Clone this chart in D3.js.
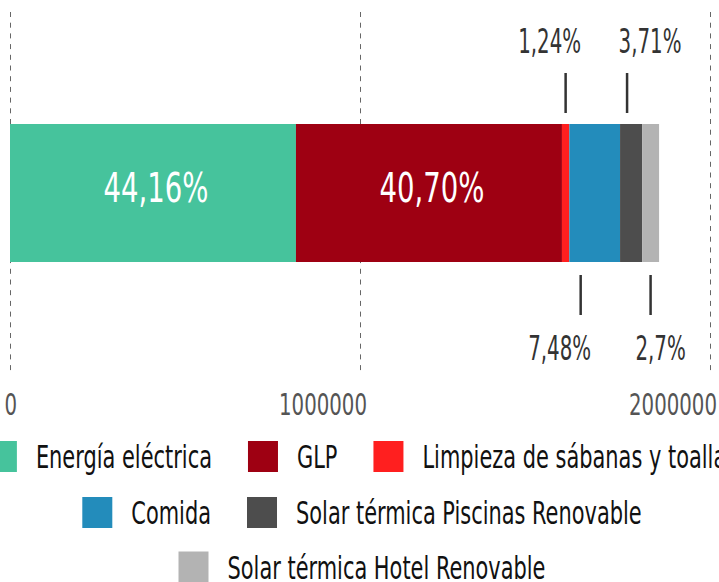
<!DOCTYPE html>
<html>
<head>
<meta charset="utf-8">
<script src="https://cdn.jsdelivr.net/npm/d3@7"></script>
<style>
  body { margin: 0; background: #fff; }
  text { font-family: "Liberation Sans Narrow", "DejaVu Sans Condensed", "DejaVu Sans", sans-serif; }
</style>
</head>
<body>
<div id="chart"></div>
<script>
// data
const categories = ["Energía eléctrica", "GLP", "Limpieza de sábanas y toallas", "Comida", "Solar térmica Piscinas Renovable", "Solar térmica Hotel Renovable"];
const values = [817000, 760000, 21000, 145000, 63000, 48500];
const percentLabels = ["44,16%", "40,70%", "1,24%", "7,48%", "3,71%", "2,7%"];
const colors = ["#46c39c", "#9e0012", "#ff1f1f", "#238cbb", "#4d4d4d", "#b3b3b3"];
const xTicks = [0, 1000000, 2000000];
// where each label sits: inside the bar, above or below it
const labelPlace = ["in", "in", "top", "bottom", "top", "bottom"];
const legendRows = [[0, 1, 2], [3, 4], [5]];

const W = 719, H = 582;

const svg = d3.select("#chart").append("svg")
  .attr("width", W).attr("height", H);

// the original font is much narrower than what we have, so squeeze text
// horizontally until a sample string is as wide as in the picture
function squeeze(sample, size, target) {
  const t = svg.append("text").style("font-size", size + "px").text(sample);
  const w = t.node().getComputedTextLength();
  t.remove();
  return target / w;
}
const sAxis = squeeze("2000000", 31, 88);
const sIn = squeeze("44,16%", 40, 105);
const sOut = squeeze("1,24%", 33, 63);
const sLeg = squeeze("Solar térmica Hotel Renovable", 32, 318);

const x = d3.scaleLinear().domain([0, 2000000]).range([10, 710]);
const barTop = 124, barBottom = 262;

// gridlines
svg.append("g").selectAll("line")
  .data(xTicks)
  .enter().append("line")
  .attr("x1", d => Math.round(x(d)) + 0.5)
  .attr("x2", d => Math.round(x(d)) + 0.5)
  .attr("y1", 12).attr("y2", 375)
  .attr("stroke", "#666")
  .attr("stroke-width", 1)
  .attr("stroke-dasharray", "5,5.7");

// axis labels
svg.append("g").selectAll("text")
  .data(xTicks)
  .enter().append("text")
  .attr("transform", d => `translate(${x(d) + 7},415) scale(${sAxis},1)`)
  .attr("text-anchor", "end")
  .style("font-size", "31px")
  .style("fill", "#555")
  .text(d => d);

// stacked segments
let acc = 0;
const segs = values.map((v, i) => {
  const s = { i: i, x0: acc, x1: acc + v };
  acc += v;
  return s;
});

svg.append("g").selectAll("rect")
  .data(segs)
  .enter().append("rect")
  .attr("x", d => x(d.x0))
  .attr("width", d => x(d.x1) - x(d.x0))
  .attr("y", barTop)
  .attr("height", barBottom - barTop)
  .attr("fill", d => colors[d.i]);

// labels inside the bar
svg.append("g").selectAll("text")
  .data(segs.filter(d => labelPlace[d.i] === "in"))
  .enter().append("text")
  .attr("transform", d => `translate(${x((d.x0 + d.x1) / 2) + 3},202) scale(${sIn},1)`)
  .attr("text-anchor", "middle")
  .style("font-size", "40px")
  .style("fill", "#fff")
  .text(d => percentLabels[d.i]);

// leader lines for the small ones
const lineDx = [0, 0, 0, -14, -4, 0];
const textDx = [0, 0, -16, -21, 23, 10];
const outside = segs.filter(d => labelPlace[d.i] !== "in");

outside.forEach(d => {
  const lx = x((d.x0 + d.x1) / 2) + lineDx[d.i];
  const top = labelPlace[d.i] === "top";
  svg.append("line")
    .attr("x1", lx).attr("x2", lx)
    .attr("y1", top ? 73 : 275)
    .attr("y2", top ? 113 : 315)
    .attr("stroke", "#333")
    .attr("stroke-width", 2.5);
  svg.append("text")
    .attr("transform", `translate(${lx + textDx[d.i]},${top ? 53 : 360}) scale(${sOut},1)`)
    .attr("text-anchor", "middle")
    .style("font-size", "33px")
    .style("fill", "#333")
    .text(percentLabels[d.i]);
});

// legend
const sw = 30, swH = 31, swGap = 19, itemGap = 36;
const legendCenter = 362;
const rowY = [456.5, 512.5, 567];

legendRows.forEach((row, r) => {
  const g = svg.append("g");
  const items = row.map(i => {
    const t = g.append("text")
      .style("font-size", "32px")
      .style("fill", "#111")
      .text(categories[i]);
    const w = t.node().getComputedTextLength() * sLeg;
    return { i: i, t: t, w: w };
  });
  const total = d3.sum(items, d => sw + swGap + d.w) + itemGap * (items.length - 1);
  let cx = legendCenter - total / 2;
  items.forEach(d => {
    g.append("rect")
      .attr("x", cx).attr("y", rowY[r] - swH / 2)
      .attr("width", sw).attr("height", swH)
      .attr("fill", colors[d.i]);
    d.t.attr("transform", `translate(${cx + sw + swGap},${rowY[r] + 11.5}) scale(${sLeg},1)`);
    cx += sw + swGap + d.w + itemGap;
  });
});
</script>
</body>
</html>
